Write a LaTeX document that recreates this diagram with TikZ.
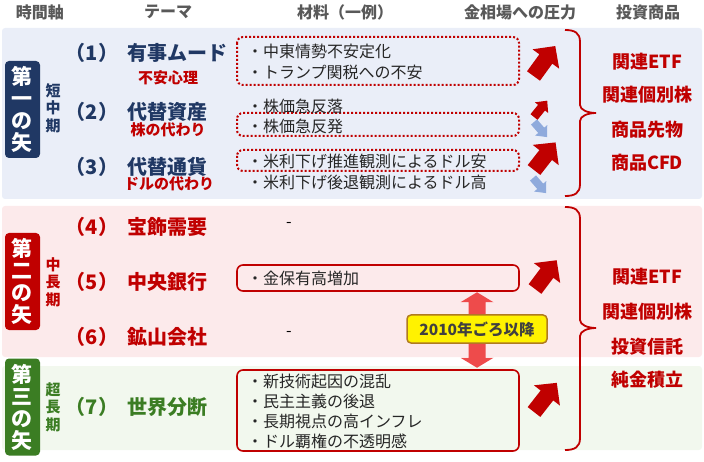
\documentclass[tikz,border=0pt]{standalone}
\usepackage{fontspec}
\setmainfont{Noto Sans CJK JP}
\definecolor{navy}{HTML}{203864}
\definecolor{dred}{HTML}{C00000}
\definecolor{dgreen}{HTML}{3B7D23}
\definecolor{pblue}{HTML}{EAEEF8}
\definecolor{ppink}{HTML}{FCEAEB}
\definecolor{pgreen}{HTML}{F2F8EE}
\definecolor{hgray}{HTML}{595959}
\definecolor{lblue}{HTML}{8FAADC}
\definecolor{lred}{HTML}{EE4B4B}
\definecolor{gold}{HTML}{B07A20}
% colour, tail, angle, length, head length, half shaft, half head
\newcommand{\blockarrow}[7]{\fill[#1,shift={#2},rotate=#3] (0,#6) -- (#4-#5,#6) -- (#4-#5,#7) -- (#4,0) -- (#4-#5,-#7) -- (#4-#5,-#6) -- (0,-#6) -- cycle;}
\begin{document}
\begin{tikzpicture}[x=1pt,y=-1pt,
  head/.style={text=hgray,font=\fontsize{16}{18}\selectfont\bfseries},
  yabox/.style={rounded corners=4pt,text=white,font=\fontsize{21}{22}\selectfont\bfseries,align=center,minimum width=35pt,minimum height=97pt,inner sep=0pt},
  term/.style={font=\fontsize{15}{17.5}\selectfont\bfseries,align=center,inner sep=0pt},
  num/.style={font=\fontsize{20}{24}\selectfont\bfseries,inner sep=0pt},
  theme/.style={font=\fontsize{20}{24}\selectfont\bfseries,anchor=west,inner sep=0pt},
  note/.style={text=dred,font=\fontsize{15}{18}\selectfont\bfseries,inner sep=0pt},
  item/.style={font=\fontsize{16}{21}\selectfont,anchor=west,align=left,inner sep=0pt,text=black!85},
  dotbox/.style={draw=dred,line width=2pt,dash pattern=on 2pt off 2pt,rounded corners=6pt},
  linebox/.style={draw=dred,line width=1.6pt,rounded corners=6pt},
  prod/.style={text=dred,font=\fontsize{18}{20}\selectfont\bfseries}]
\useasboundingbox (0,0) rectangle (704,462);
% panels
\fill[pblue,rounded corners=3pt] (2,28) rectangle (702,199);
\fill[ppink,rounded corners=3pt] (2,206) rectangle (702,357);
\fill[pgreen,rounded corners=3pt] (2,366) rectangle (702,450);
% header
\node[head] (h1) at (40,12) {時間軸};
\node[head] (h2) at (168,12) {テーマ};
\node[head] (h3) at (345,12) {材料（一例）};
\node[head] (h4) at (520,12) {金相場への圧力};
\node[head] (h5) at (648,12) {投資商品};
% time axis
\node[yabox,fill=navy] (y1) at (22.5,109.5) {第\\一\\の\\矢};
\node[yabox,fill=dred] (y2) at (22.5,281.5) {第\\二\\の\\矢};
\node[yabox,fill=dgreen] (y3) at (22.5,407) {第\\三\\の\\矢};
\node[term,text=navy] (k1) at (53,108) {短\\中\\期};
\node[term,text=dred] (k2) at (53,282) {中\\長\\期};
\node[term,text=dgreen] (k3) at (53,407) {超\\長\\期};
% themes
\node[num,text=navy] (n1) at (92,53) {（1）};
\node[theme,text=navy] (t1) at (127,53) {有事ムード};
\node[note] (s1) at (168,78) {不安心理};
\node[num,text=navy] (n2) at (92,112) {（2）};
\node[theme,text=navy] (t2) at (127,112) {代替資産};
\node[note] (s2) at (168,130) {株の代わり};
\node[num,text=navy] (n3) at (92,167) {（3）};
\node[theme,text=navy] (t3) at (127,167) {代替通貨};
\node[note] (s3) at (169,184) {ドルの代わり};
\node[num,text=dred] (n4) at (92,227) {（4）};
\node[theme,text=dred] (t4) at (127,227) {宝飾需要};
\node[num,text=dred] (n5) at (92,282) {（5）};
\node[theme,text=dred] (t5) at (127,282) {中央銀行};
\node[num,text=dred] (n6) at (92,337) {（6）};
\node[theme,text=dred] (t6) at (127,337) {鉱山会社};
\node[num,text=dgreen] (n7) at (92,407) {（7）};
\node[theme,text=dgreen] (t7) at (127,407) {世界分断};
% materials
\draw[dotbox] (237,37) rectangle (519,85);
\draw[dotbox] (237,113) rectangle (519,136);
\draw[dotbox] (237,150) rectangle (519,171);
\draw[linebox] (237,265) rectangle (519,291);
\draw[linebox] (237,370) rectangle (519,451);
\node[item] (m1) at (247,62) {・中東情勢不安定化\\・トランプ関税への不安};
\node[item] (m2) at (247,106) {・株価急反落};
\node[item] (m3) at (247,126) {・株価急反発};
\node[item] (m4) at (247,161) {・米利下げ推進観測によるドル安};
\node[item] (m5) at (247,182) {・米利下げ後退観測によるドル高};
\node[item,text=black] (m6) at (286,225) {-};
\node[item] (m7) at (247,278) {・金保有高増加};
\node[item,text=black] (m8) at (286,334) {-};
\node[item,font=\fontsize{16}{20}\selectfont] (m9) at (247,411) {・新技術起因の混乱\\・民主主義の後退\\・長期視点の高インフレ\\・ドル覇権の不透明感};
% pressure
\blockarrow{dred}{(533.5,76)}{54}{37}{16}{8}{16.5}
\blockarrow{dred}{(534,117)}{51}{21}{9}{4.5}{8.5}
\blockarrow{lblue}{(534,122)}{-49}{20}{9}{4}{8}
\blockarrow{dred}{(534,170)}{52}{35}{16}{8}{16.5}
\blockarrow{lblue}{(533,178)}{-49}{20}{9}{4}{8}
\blockarrow{dred}{(535,289)}{53}{36}{16}{8}{16.5}
\blockarrow{dred}{(534,412)}{52}{37}{16}{8}{16.5}
\node[draw=gold,fill=yellow,line width=1.5pt,rounded corners=4pt,minimum width=140pt,minimum height=28pt,inner sep=0pt,text=black!75,font=\fontsize{15.5}{18}\selectfont\bfseries] (era) at (477,329) {2010年ごろ以降};
\blockarrow{lred}{(era.north)}{90}{22}{10}{8.5}{16.5}
\blockarrow{lred}{(era.south)}{-90}{24}{10}{8.5}{16.5}
% braces
\draw[dred,line width=1.8pt] (565,30) .. controls (575,30) and (580,33) .. (580,42) -- (580,105) .. controls (580,110) and (588,113) .. (596,113) .. controls (588,113) and (580,116) .. (580,121) -- (580,184) .. controls (580,193) and (575,196) .. (565,196);
\draw[dred,line width=1.8pt] (565,207) .. controls (575,207) and (580,210) .. (580,219) -- (580,320) .. controls (580,325) and (588,328) .. (596,328) .. controls (588,328) and (580,331) .. (580,336) -- (580,438) .. controls (580,447) and (575,450) .. (565,450);
% products
\foreach \i/\y/\t in {1/62/関連ETF,2/95/関連個別株,3/130/商品先物,4/163/商品CFD,5/277/関連ETF,6/312/関連個別株,7/347/投資信託,8/380/純金積立}
  \node[prod] (p\i) at (647,\y) {\t};
\end{tikzpicture}
\end{document}
